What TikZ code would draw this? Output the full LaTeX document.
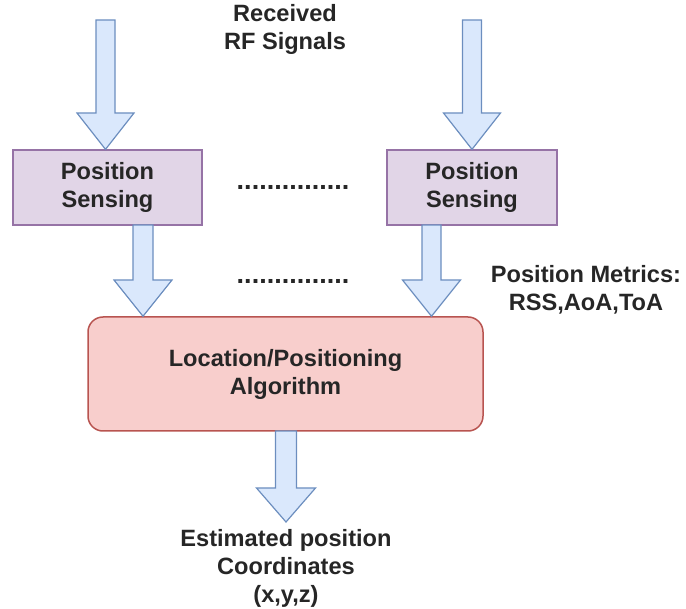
\documentclass[tikz,border=0pt]{standalone}
\usepackage{fontspec}
\setmainfont{Liberation Sans}
\usetikzlibrary{calc}
\begin{document}
\begin{tikzpicture}[x=1pt,y=-1pt,
  txt/.style={align=center,font=\fontsize{23.6}{28}\selectfont\bfseries,text=black!85,inner sep=0pt},
  dotrow/.style={font=\fontsize{27}{28}\selectfont\bfseries,text=black!85,inner sep=0pt,anchor=base},
  sensebox/.style={draw=sensedraw,fill=sensefill,line width=1.3pt,txt},
  algobox/.style={draw=algodraw,fill=algofill,line width=1.5pt,rounded corners=15pt,txt},
  barrow/.style={draw=arrdraw,fill=arrfill,line width=1.2pt,line join=miter}]
\definecolor{arrfill}{HTML}{DAE8FC}
\definecolor{arrdraw}{HTML}{6C8EBF}
\definecolor{sensefill}{HTML}{E1D5E7}
\definecolor{sensedraw}{HTML}{9673A6}
\definecolor{algofill}{HTML}{F8CECC}
\definecolor{algodraw}{HTML}{B85450}
\useasboundingbox (0,0) rectangle (686,609);
% boxes
\node[sensebox,minimum width=189pt,minimum height=75pt] (s1) at (107.5,187.5) {Position\\Sensing};
\node[sensebox,minimum width=170pt,minimum height=75pt] (s2) at (472,187.5) {Position\\Sensing};
\node[algobox,minimum width=395pt,minimum height=114pt] (alg) at (285.5,374) {Location/Positioning\\Algorithm};
% texts
\node[txt] (rf) at (285,29) {Received\\RF Signals};
\node[txt] (pm) at (586,290) {Position Metrics:\\RSS,AoA,ToA};
\node[txt,anchor=north] (est) at (286,529) {Estimated position\\Coordinates\\(x,y,z)};
\node[dotrow] (d1) at (293,190) {...............};
\node[dotrow] (d2) at (293,284) {...............};
% top arrows
\coordinate (t1) at (105.5,20);
\coordinate (t2) at (472,20);
\draw[barrow] ($(t1)+(-9.5,0)$) -- ($(t1)+(9.5,0)$) -- ($(t1)+(9.5,93)$) -- ($(t1)+(28.5,93)$)
  -- (t1 |- s1.north) -- ($(t1)+(-28.5,93)$) -- ($(t1)+(-9.5,93)$) -- cycle;
\draw[barrow] ($(t2)+(-9.5,0)$) -- ($(t2)+(9.5,0)$) -- ($(t2)+(9.5,93)$) -- ($(t2)+(28.5,93)$)
  -- (t2 |- s2.north) -- ($(t2)+(-28.5,93)$) -- ($(t2)+(-9.5,93)$) -- cycle;
% lower arrows
\coordinate (b1) at (143,225);
\coordinate (b2) at (431.5,225);
\draw[barrow] ($(b1)+(-10,0)$) -- ($(b1)+(10,0)$) -- ($(b1)+(10,55)$) -- ($(b1)+(29,55)$)
  -- (b1 |- alg.north) -- ($(b1)+(-29,55)$) -- ($(b1)+(-10,55)$) -- cycle;
\draw[barrow] ($(b2)+(-9.5,0)$) -- ($(b2)+(9.5,0)$) -- ($(b2)+(9.5,55)$) -- ($(b2)+(29,55)$)
  -- (b2 |- alg.north) -- ($(b2)+(-29,55)$) -- ($(b2)+(-9.5,55)$) -- cycle;
% output arrow
\coordinate (o1) at (286,431);
\draw[barrow] ($(o1)+(-10.5,0)$) -- ($(o1)+(10.5,0)$) -- ($(o1)+(10.5,57)$) -- ($(o1)+(29.5,57)$)
  -- ($(o1)+(0,91)$) -- ($(o1)+(-29.5,57)$) -- ($(o1)+(-10.5,57)$) -- cycle;
\end{tikzpicture}
\end{document}
